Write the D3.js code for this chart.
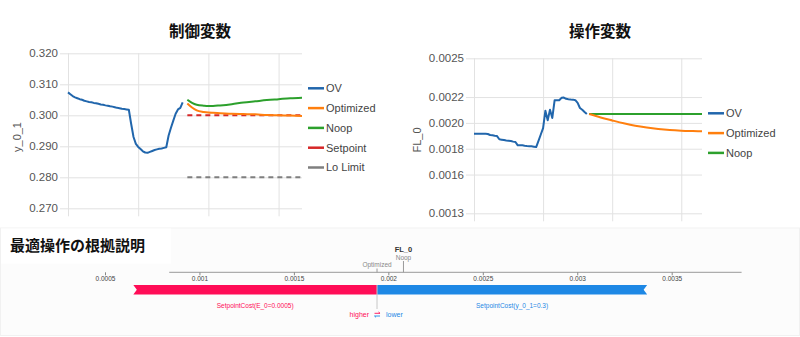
<!DOCTYPE html>
<html><head><meta charset="utf-8">
<script src="https://cdn.jsdelivr.net/npm/d3@7"></script>
<style>body{margin:0;background:#fff}svg{display:block;font-family:Arial,"Liberation Sans",sans-serif}</style>
</head><body><svg id="c" width="800" height="337"></svg>
<script>
// ---------- data ----------
const histT = d3.range(0, 50);
const ctrlOV = [0.3074,0.3068,0.3062,0.3058,0.3055,0.3052,0.3050,0.3047,0.3045,0.3043,
 0.3042,0.3040,0.3039,0.3037,0.3035,0.3034,0.3032,0.3031,0.3029,0.3028,
 0.3026,0.3024,0.3023,0.3021,0.3020,0.3019,0.3018,0.2972,0.2930,0.2908,
 0.2898,0.2891,0.2884,0.2880,0.2879,0.2882,0.2885,0.2888,0.2890,0.2892,
 0.2893,0.2895,0.2897,0.2935,0.2960,0.2983,0.3005,0.3019,0.3024,0.3042];
const ctrlFcT = [51,53,55,58,60,62,65,70,75,80,85,90,95,100];
const ctrlOptimized = [0.3038,0.3025,0.3016,0.3011,0.3009,0.3008,0.3007,0.3005,0.3004,0.3003,0.3001,0.3000,0.2999,0.2998];
const ctrlNoop = [0.3050,0.3040,0.3034,0.3031,0.3030,0.3030,0.3032,0.3036,0.3041,0.3045,0.3049,0.3052,0.3055,0.3057];
const ctrlSetpoint = 0.300;
const ctrlLoLimit = 0.280;
const ctrlTicks = [0.270,0.280,0.290,0.300,0.310,0.320];

const mvOV = [0.001916,0.001916,0.001916,0.001916,0.001916,0.001915,0.001914,0.001906,0.001904,0.001900,
 0.001898,0.001873,0.001870,0.001867,0.001864,0.001862,0.001860,0.001855,0.001852,0.001826,
 0.001827,0.001826,0.001823,0.001821,0.001820,0.001819,0.001816,0.001813,0.001860,0.001910,
 0.001960,0.002094,0.002020,0.002102,0.002038,0.002175,0.002176,0.002175,0.002194,0.002196,
 0.002186,0.002183,0.002181,0.002180,0.002176,0.002155,0.002115,0.002102,0.002085,0.002069];
const mvFcT = [50,55,60,65,70,75,80,85,90,95,99];
const mvOptimized = [0.002069,0.002042,0.002019,0.001997,0.001978,0.001964,0.001953,0.001945,0.001940,0.001937,0.001935];
const mvNoop = [0.002069,0.002069,0.002069,0.002069,0.002069,0.002069,0.002069,0.002069,0.002069,0.002069,0.002069];
const mvTicks = [0.0013,0.0016,0.0018,0.0020,0.0022,0.0025];
const xGridTicks = [0,30,60,90];

const ctrlLegend = ["OV","Optimized","Noop","Setpoint","Lo Limit"];
const mvLegend = ["OV","Optimized","Noop"];

const forceTicks = [0.0005,0.001,0.0015,0.002,0.0025,0.003,0.0035];
const forceAxisExtent = [0.00084,0.00387];
const forceNoop = 0.00208;
const forceOptimized = 0.00194;
const forceFeatures = ["SetpointCost(E_0=0.0005)","SetpointCost(y_0_1=0.3)"];
const forceEffects = [0.00129,-0.00143];

// ---------- styles ----------
const colors = {OV:"#2166ac", Optimized:"#ff7f0e", Noop:"#2ca02c", Setpoint:"#d62728", "Lo Limit":"#7f7f7f"};
const svg = d3.select("#c");
const CJK = '"Noto Sans CJK JP","Noto Sans CJK SC",sans-serif';

function panel(cfg){
  const g = svg.append("g");
  const x = d3.scaleLinear().domain(cfg.xDomain).range(cfg.xRange);
  const y = d3.scaleLinear().domain(cfg.yDomain).range(cfg.yRange);
  const w = cfg.xRange[1]-cfg.xRange[0];
  const h = cfg.yRange[0]-cfg.yRange[1];
  const ya = g.append("g").attr("transform",`translate(${cfg.xRange[0]-8},0)`)
    .call(d3.axisLeft(y).tickValues(cfg.yTicks).tickFormat(d3.format(cfg.fmt)).tickSize(-(w+8)).tickPadding(2));
  ya.select(".domain").remove();
  ya.selectAll("line").attr("stroke","#e2e2e2");
  ya.selectAll("text").attr("fill","#555").style("font-size","11.5px").style("font-family","Arial,sans-serif");
  const xa = g.append("g").attr("transform",`translate(0,${cfg.yRange[0]+8})`)
    .call(d3.axisBottom(x).tickValues(xGridTicks).tickFormat("").tickSize(-(h+8)));
  xa.select(".domain").remove();
  xa.selectAll("line").attr("stroke","#e2e2e2");
  g.append("text").attr("x",(cfg.xRange[0]+cfg.xRange[1])/2 - cfg.titleShift).attr("y",37)
    .attr("text-anchor","middle").style("font-family",CJK).style("font-weight","bold").style("font-size","15.5px")
    .attr("fill","#111").text(cfg.title);
  g.append("text").attr("transform",`translate(${cfg.yLabelX},${cfg.yLabelY}) rotate(-90)`)
    .attr("text-anchor","middle").attr("fill","#555").style("font-size","11px").text(cfg.yLabel);
  const line = d3.line().x(d=>x(d[0])).y(d=>y(d[1]));
  const smooth = d3.line().x(d=>x(d[0])).y(d=>y(d[1])).curve(d3.curveMonotoneX);
  const L = g.append("g").attr("fill","none");
  (cfg.refs||[]).forEach(r=>{
    L.append("path").attr("d",line([[cfg.fcT[0],r.v],[cfg.fcT[cfg.fcT.length-1],r.v]]))
      .attr("stroke",colors[r.name]).attr("stroke-width",2).attr("stroke-dasharray","5,4");
  });
  L.append("path").attr("d",line(histT.map((t,i)=>[t,cfg.ov[i]]))).attr("stroke",colors.OV).attr("stroke-width",2).attr("stroke-linejoin","round");
  L.append("path").attr("d",smooth(cfg.fcT.map((t,i)=>[t,cfg.noop[i]]))).attr("stroke",colors.Noop).attr("stroke-width",2);
  L.append("path").attr("d",smooth(cfg.fcT.map((t,i)=>[t,cfg.opt[i]]))).attr("stroke",colors.Optimized).attr("stroke-width",2);
  const lg = g.append("g");
  cfg.legend.forEach((n,i)=>{
    const yy = cfg.legY + i*19.8;
    lg.append("line").attr("x1",cfg.legX).attr("x2",cfg.legX+16).attr("y1",yy).attr("y2",yy)
      .attr("stroke",colors[n]).attr("stroke-width",2.5);
    lg.append("text").attr("x",cfg.legX+18).attr("y",yy).attr("dy","0.35em").attr("fill","#444")
      .style("font-size","11px").text(n);
  });
}

panel({xDomain:[0,100], xRange:[68,302], yDomain:[0.270,0.320], yRange:[208.3,53.3], yTicks:ctrlTicks, fmt:".3f",
  title:"制御変数", titleShift:-15, yLabel:"y_0_1", yLabelX:21, yLabelY:137,
  ov:ctrlOV, fcT:ctrlFcT, opt:ctrlOptimized, noop:ctrlNoop,
  refs:[{name:"Setpoint",v:ctrlSetpoint},{name:"Lo Limit",v:ctrlLoLimit}],
  legend:ctrlLegend, legX:308, legY:88.3});
panel({xDomain:[0,99], xRange:[474,702], yDomain:[0.0013,0.0025], yRange:[213.3,58.3], yTicks:mvTicks, fmt:".4f",
  title:"操作変数", titleShift:-12, yLabel:"FL_0", yLabelX:421, yLabelY:140,
  ov:mvOV, fcT:mvFcT, opt:mvOptimized, noop:mvNoop, refs:[],
  legend:mvLegend, legX:708, legY:113.3});

// ---------- force plot ----------
const fp = svg.append("g");
fp.append("rect").attr("x",0.5).attr("y",228).attr("width",799).attr("height",107.5).attr("fill","#fcfcfc").attr("stroke","#f1f1f1");
fp.append("rect").attr("x",1).attr("y",228.5).attr("width",170).attr("height",35).attr("fill","#fff");
fp.append("text").attr("x",10).attr("y",251).style("font-family",CJK).style("font-weight","bold").style("font-size","15px")
  .attr("fill","#111").text("最適操作の根拠説明");
const fx = d3.scaleLinear().domain([0.0005,0.0035]).range([105,671.7]);
const axY = 272.3;
fp.append("line").attr("x1",fx(forceAxisExtent[0])).attr("x2",fx(forceAxisExtent[1])).attr("y1",axY).attr("y2",axY)
  .attr("stroke","#999").attr("stroke-width",1);
const fa = fp.append("g").attr("transform",`translate(0,${axY})`)
  .call(d3.axisBottom(fx).tickValues(forceTicks).tickFormat(d=>String(+d.toFixed(4))).tickSize(3).tickPadding(1.5));
fa.select(".domain").remove();
fa.selectAll("line").attr("stroke","#888");
fa.selectAll("text").attr("fill","#444").style("font-size","6.5px").style("font-family","Arial,sans-serif");
const barTop = 285, barH = 9.5, notch = 3.5;
let redStart = forceOptimized - forceEffects[0];
let blueEnd = forceOptimized - forceEffects[1];
const x0 = fx(redStart), xm = fx(forceOptimized), x1 = fx(blueEnd);
fp.append("path").attr("d",`M${x0},${barTop}L${xm},${barTop}L${xm},${barTop+barH}L${x0},${barTop+barH}L${x0+notch},${barTop+barH/2}Z`).attr("fill","#ff0d57");
fp.append("path").attr("d",`M${xm},${barTop}L${x1},${barTop}L${x1-notch},${barTop+barH/2}L${x1},${barTop+barH}L${xm},${barTop+barH}Z`).attr("fill","#1e88e5");
fp.append("text").attr("x",(x0+xm)/2).attr("y",308).attr("text-anchor","middle").attr("fill","#ff0d57").style("font-size","6.5px").text(forceFeatures[0]);
fp.append("text").attr("x",(xm+x1)/2).attr("y",308).attr("text-anchor","middle").attr("fill","#1e88e5").style("font-size","6.5px").text(forceFeatures[1]);
fp.append("line").attr("x1",xm).attr("x2",xm).attr("y1",barTop).attr("y2",309).attr("stroke","#c8c8c8").attr("stroke-width",1);
fp.append("line").attr("x1",xm).attr("x2",xm).attr("y1",268.5).attr("y2",axY).attr("stroke","#999").attr("stroke-width",1);
fp.append("text").attr("x",xm).attr("y",266.5).attr("text-anchor","middle").attr("fill","#888").style("font-size","6.5px").text("Optimized");
const xn = fx(forceNoop);
fp.append("line").attr("x1",xn).attr("x2",xn).attr("y1",261).attr("y2",axY).attr("stroke","#999").attr("stroke-width",1);
fp.append("text").attr("x",xn).attr("y",259.5).attr("text-anchor","middle").attr("fill","#888").style("font-size","6.5px").text("Noop");
fp.append("text").attr("x",xn).attr("y",251.5).attr("text-anchor","middle").attr("fill","#333").style("font-size","7.5px").style("font-weight","bold").text("FL_0");
fp.append("text").attr("x",xm-8).attr("y",317).attr("text-anchor","end").attr("fill","#ff0d57").style("font-size","7px").text("higher");
fp.append("text").attr("x",xm+9).attr("y",317).attr("text-anchor","start").attr("fill","#1e88e5").style("font-size","7px").text("lower");
fp.append("path").attr("d",`M${xm-2.5},313.3L${xm+3},313.3M${xm+1.5},312L${xm+3},313.3`).attr("stroke","#ff0d57").attr("fill","none").attr("stroke-width",0.9);
fp.append("path").attr("d",`M${xm+3},316L${xm-2.5},316M${xm-1},317.3L${xm-2.5},316`).attr("stroke","#1e88e5").attr("fill","none").attr("stroke-width",0.9);
</script></body></html>
